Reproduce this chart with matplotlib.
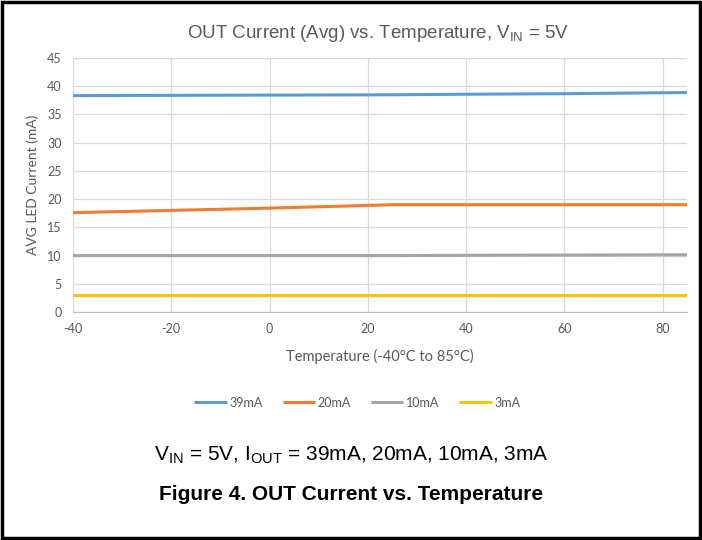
import numpy as np
import matplotlib.pyplot as plt
from matplotlib.patches import Rectangle

plt.rcParams['mathtext.fontset'] = 'custom'
plt.rcParams['mathtext.rm'] = 'Liberation Sans'
plt.rcParams['axes.unicode_minus'] = False

# data
temps = [-40, -20, 0, 25, 40, 60, 85]
i_39 = [38.3, 38.35, 38.4, 38.45, 38.55, 38.65, 38.85]
i_20 = [17.6, 18.0, 18.4, 19.0, 19.0, 19.0, 19.0]
i_10 = [10.0, 10.0, 10.0, 10.0, 10.05, 10.1, 10.15]
i_3 = [3.0, 3.0, 3.0, 3.0, 3.0, 3.0, 3.0]
labels = ['39mA', '20mA', '10mA', '3mA']
colors = ['#5B9BD5', '#ED7D31', '#A5A5A5', '#FFC000']
xticks = [-40, -20, 0, 20, 40, 60, 80]
yticks = list(range(0, 50, 5))

fig = plt.figure(figsize=(7.02, 5.40), dpi=100)
ax = fig.add_axes([0.104, 0.422, 0.875, 0.471])

for ys, lab, c in zip([i_39, i_20, i_10, i_3], labels, colors):
    ax.plot(temps, ys, color=c, lw=2.2, label=lab, solid_capstyle='butt')

ax.set_xlim(-40, 85)
ax.set_ylim(0, 45)
ax.set_xticks(xticks)
ax.set_yticks(yticks)
ax.grid(True, color='#D9D9D9', lw=0.9)
ax.set_axisbelow(True)
for s in ['top', 'right', 'left']:
    ax.spines[s].set_visible(False)
ax.spines['bottom'].set_color('#BFBFBF')
ax.tick_params(length=0, labelsize=9, labelcolor='#595959', pad=8)
for t in ax.get_xticklabels() + ax.get_yticklabels():
    t.set_family('Lato')

ax.set_xlabel('Temperature (-40°C to 85°C)', fontsize=10.5, color='#595959',
              family='Lato', labelpad=10)
ax.set_ylabel('AVG LED Current (mA)', fontsize=10, color='#595959',
              family='Lato', labelpad=6)

fig.text(0.538, 0.938, r'OUT Current (Avg) vs. Temperature, V$_{\mathregular{IN}}$ = 5V',
         ha='center', va='center', fontsize=13.5, color='#595959', family='Liberation Sans')

fig.legend(loc='center', bbox_to_anchor=(0.509, 0.254), ncol=4, frameon=False,
           handlelength=2.6, handletextpad=0.2, columnspacing=1.6,
           prop={'family': 'Lato', 'size': 9}, labelcolor='#595959')

fig.text(0.5, 0.157, r'V$_{\mathregular{IN}}$ = 5V, I$_{\mathregular{OUT}}$ = 39mA, 20mA, 10mA, 3mA',
         ha='center', va='center', fontsize=15, color='black', family='Liberation Sans')
fig.text(0.5, 0.085, 'Figure 4. OUT Current vs. Temperature', ha='center', va='center',
         fontsize=15, fontweight='bold', color='black', family='Liberation Sans')

fig.patches.append(Rectangle((0.003, 0.004), 0.994, 0.992, transform=fig.transFigure,
                             fill=False, edgecolor='black', lw=2.5))

fig.savefig('out.png', dpi=100)
